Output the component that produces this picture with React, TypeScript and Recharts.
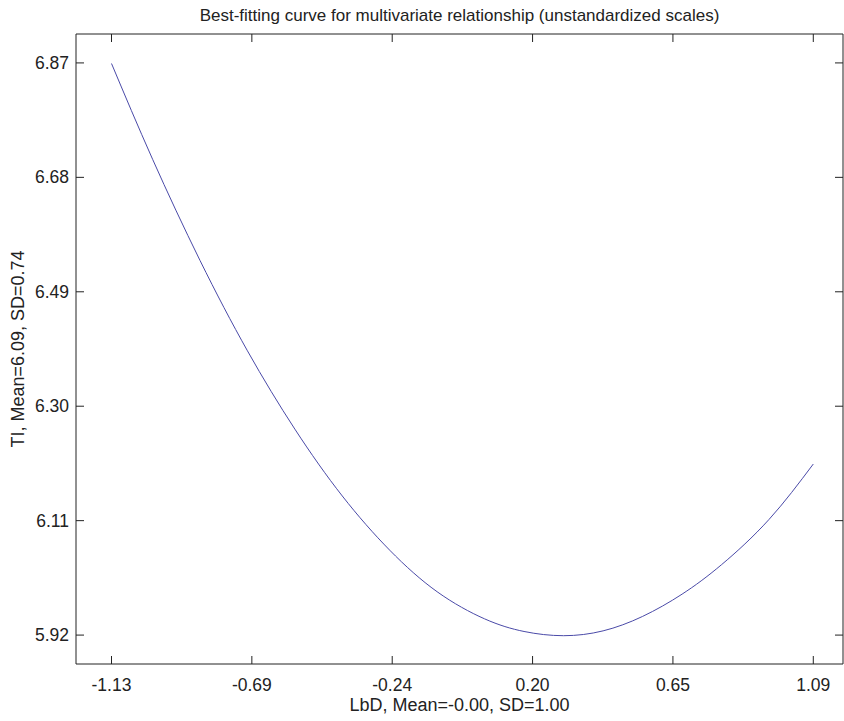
import { LineChart, Line, XAxis, YAxis } from "recharts";

// LbD values (x) and fitted TI values (y)
const lbd = [-1.13, -1.0, -0.85, -0.7, -0.55, -0.4, -0.25, -0.1, 0.05, 0.175, 0.3, 0.425, 0.55, 0.675, 0.8, 0.95, 1.09];
const ti = [6.869, 6.71, 6.542, 6.392, 6.262, 6.151, 6.061, 5.992, 5.947, 5.926, 5.919, 5.927, 5.951, 5.988, 6.037, 6.112, 6.204];

const xTicks = [-1.13, -0.686, -0.242, 0.202, 0.646, 1.09];
const yTicks = [5.92, 6.11, 6.3, 6.49, 6.68, 6.87];

const xDomain = [-1.2423, 1.184];
const yDomain = [5.872, 6.918];

const data = lbd.map((x, i) => ({ x, y: ti[i] }));

const font = "'Liberation Sans', Arial, Helvetica, sans-serif";
const ink = "#222";

const BottomTick = ({ x, y, payload }: any) => (
  <g>
    <line x1={x} y1={y} x2={x} y2={y - 8} stroke={ink} />
    <text x={x} y={y + 27} textAnchor="middle" fontSize={17.5} fontFamily={font} fill={ink}>
      {Number(payload.value).toFixed(2)}
    </text>
  </g>
);

const TopTick = ({ x, y }: any) => (
  <line x1={x} y1={y} x2={x} y2={y + 8} stroke={ink} />
);

const LeftTick = ({ x, y, payload }: any) => (
  <g>
    <line x1={x} y1={y} x2={x + 8} y2={y} stroke={ink} />
    <text x={x - 7} y={y} dy="0.35em" textAnchor="end" fontSize={17.5} fontFamily={font} fill={ink}>
      {Number(payload.value).toFixed(2)}
    </text>
  </g>
);

const RightTick = ({ x, y }: any) => (
  <line x1={x} y1={y} x2={x - 8} y2={y} stroke={ink} />
);

export default function App() {
  return (
    <div style={{ position: "absolute", left: 0, top: 0, background: "#fff" }}>
      <LineChart
        width={844}
        height={721}
        data={data}
        margin={{ top: 33, right: 0, bottom: 56, left: 75 }}
      >
        <XAxis
          dataKey="x"
          type="number"
          domain={xDomain}
          allowDataOverflow
          ticks={xTicks}
          height={1}
          tickSize={0}
          tickMargin={0}
          tickLine={false}
          tick={BottomTick}
          interval={0}
          stroke={ink}
          label={{
            content: (p: any) => (
              <text
                x={p.viewBox.x + p.viewBox.width / 2}
                y={p.viewBox.y + 47}
                textAnchor="middle"
                fontSize={18}
                fontFamily={font}
                fill={ink}
              >
                LbD, Mean=-0.00, SD=1.00
              </text>
            ),
          }}
        />
        <XAxis
          xAxisId="top"
          orientation="top"
          dataKey="x"
          type="number"
          domain={xDomain}
          allowDataOverflow
          ticks={xTicks}
          height={1}
          tickSize={0}
          tickMargin={0}
          tickLine={false}
          tick={TopTick}
          interval={0}
          stroke={ink}
          label={{
            content: (p: any) => (
              <text
                x={p.viewBox.x + p.viewBox.width / 2}
                y={p.viewBox.y - 12}
                textAnchor="middle"
                fontSize={17}
                fontFamily={font}
                fill={ink}
              >
                Best-fitting curve for multivariate relationship (unstandardized scales)
              </text>
            ),
          }}
        />
        <YAxis
          type="number"
          domain={yDomain}
          allowDataOverflow
          ticks={yTicks}
          width={1}
          tickSize={0}
          tickMargin={0}
          tickLine={false}
          tick={LeftTick}
          interval={0}
          stroke={ink}
          label={{
            content: (p: any) => {
              const cx = 24;
              const cy = p.viewBox.y + p.viewBox.height / 2;
              return (
                <text
                  x={cx}
                  y={cy}
                  transform={`rotate(-90 ${cx} ${cy})`}
                  textAnchor="middle"
                  fontSize={18}
                  fontFamily={font}
                  fill={ink}
                >
                  TI, Mean=6.09, SD=0.74
                </text>
              );
            },
          }}
        />
        <YAxis
          yAxisId="right"
          orientation="right"
          type="number"
          domain={yDomain}
          allowDataOverflow
          ticks={yTicks}
          width={1}
          tickSize={0}
          tickMargin={0}
          tickLine={false}
          tick={RightTick}
          interval={0}
          stroke={ink}
        />
        <Line
          dataKey="y"
          type="natural"
          stroke="#4a4aa8"
          strokeWidth={1}
          dot={false}
          isAnimationActive={false}
        />
      </LineChart>
    </div>
  );
}
